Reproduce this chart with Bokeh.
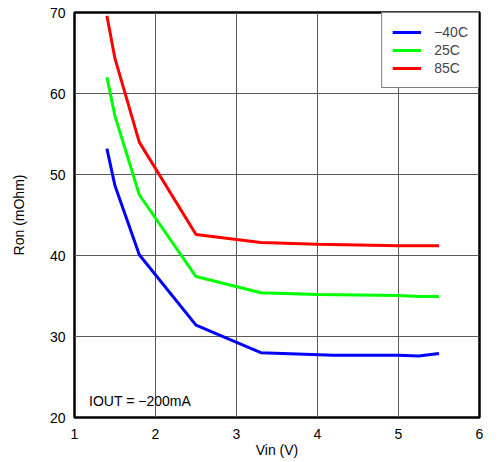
from bokeh.plotting import figure
from bokeh.models import FixedTicker, Label, Legend, LegendItem, Range1d
from bokeh.embed import file_html
from bokeh.resources import INLINE

# Data
vin_m40 = [1.4, 1.5, 1.8, 2.5, 3.3, 4.2, 5.0, 5.25, 5.5]
ron_m40 = [53.2, 48.6, 40.1, 31.4, 28.0, 27.7, 27.7, 27.6, 27.9]
vin_25 = [1.4, 1.5, 1.8, 2.5, 3.3, 4.0, 5.0, 5.27, 5.5]
ron_25 = [62.0, 57.2, 47.5, 37.4, 35.4, 35.2, 35.05, 34.95, 34.95]
vin_85 = [1.4, 1.5, 1.8, 2.5, 3.3, 4.0, 5.0, 5.5]
ron_85 = [69.6, 64.3, 54.0, 42.6, 41.6, 41.4, 41.2, 41.2]

series_labels = ["\u221240C", "25C", "85C"]
series_colors = ["#0000ff", "#00ff00", "#ff0000"]
x_ticks = [1, 2, 3, 4, 5, 6]
y_ticks = [20, 30, 40, 50, 60, 70]
note_text = "IOUT = \u2212200mA"

FONT = "Liberation Sans"

p = figure(width=499, height=462, output_backend="svg", toolbar_location=None,
           x_range=Range1d(1, 6), y_range=Range1d(20, 70),
           frame_width=405, frame_height=405,
           min_border_left=74, min_border_top=12, min_border_right=20, min_border_bottom=45)

p.background_fill_color = "white"
p.border_fill_color = "white"
p.outline_line_color = "black"
p.outline_line_width = 2.5

p.xaxis.ticker = FixedTicker(ticks=x_ticks)
p.yaxis.ticker = FixedTicker(ticks=y_ticks)
for ax in (p.xaxis[0], p.yaxis[0]):
    ax.axis_line_color = None
    ax.major_tick_line_color = None
    ax.minor_tick_line_color = None
    ax.major_tick_out = 0
    ax.major_tick_in = 0
    ax.minor_tick_out = 0
    ax.major_label_text_font = FONT
    ax.major_label_text_font_size = "14px"
    ax.major_label_text_color = "black"
    ax.axis_label_text_font = FONT
    ax.axis_label_text_font_size = "14px"
    ax.axis_label_text_font_style = "normal"
    ax.axis_label_text_color = "black"

p.xaxis.axis_label = "Vin (V)"
p.yaxis.axis_label = "Ron (mOhm)"
p.xaxis.major_label_standoff = 11
p.xaxis.axis_label_standoff = 0
p.yaxis.major_label_standoff = 9
p.yaxis.axis_label_standoff = 20

p.xgrid.ticker = FixedTicker(ticks=x_ticks)
p.ygrid.ticker = FixedTicker(ticks=y_ticks)
p.grid.grid_line_color = "#5a5a5a"
p.grid.grid_line_width = 1

r1 = p.line(vin_m40, ron_m40, line_color=series_colors[0], line_width=3)
r2 = p.line(vin_25, ron_25, line_color=series_colors[1], line_width=3)
r3 = p.line(vin_85, ron_85, line_color=series_colors[2], line_width=3)

legend = Legend(items=[LegendItem(label=series_labels[0], renderers=[r1]),
                       LegendItem(label=series_labels[1], renderers=[r2]),
                       LegendItem(label=series_labels[2], renderers=[r3])],
                location="top_right")
legend.margin = 0
legend.padding = 10
legend.spacing = 0
legend.glyph_width = 29
legend.glyph_height = 18
legend.label_height = 18
legend.label_standoff = 13
legend.label_text_font = FONT
legend.label_text_font_size = "14px"
legend.border_line_color = "black"
legend.border_line_width = 1.5
legend.background_fill_color = "white"
legend.background_fill_alpha = 1
p.add_layout(legend)

note = Label(x=1.18, y=22.0, text=note_text, text_font=FONT, text_font_size="14px",
             text_baseline="middle", text_align="left", text_color="black")
p.add_layout(note)

open("out.html", "w").write(file_html(p, INLINE))
